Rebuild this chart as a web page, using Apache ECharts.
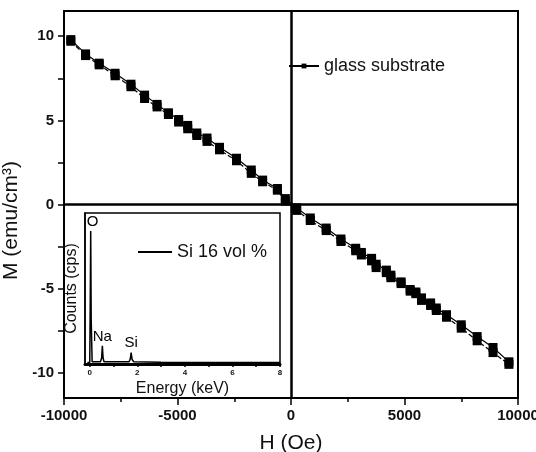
<!DOCTYPE html>
<html lang="en">
<head>
    <meta charset="UTF-8">
    <title>M-H glass substrate</title>
    <script src="https://cdn.jsdelivr.net/npm/echarts@6/dist/echarts.min.js"></script>
    <style type="text/css">
        html, body { margin: 0; padding: 0; background: #fff; }
        #chart { width: 536px; height: 452px; }
    </style>
</head>
<body>
<div id="chart"></div>
<script type="text/javascript">
    // M-H loop, two branches
    var hField = [-9700, -9050, -8450, -7750, -7050, -6450, -5900, -5400, -4950, -4550, -4150, -3700, -3150, -2400, -1750, -1250,
        -600, -250, 250, 850, 1550, 2200, 2850, 3100, 3550, 3750, 4200, 4400, 4850, 5250, 5500, 5750, 6150, 6400, 6850, 7500, 8200, 8900, 9600];
    var mUpper = [9.8, 8.95, 8.4, 7.8, 7.15, 6.5, 5.95, 5.45, 5.05, 4.7, 4.25, 3.95, 3.4, 2.75, 2.05, 1.45,
        0.95, 0.35, -0.2, -0.8, -1.4, -2.05, -2.6, -2.85, -3.2, -3.55, -3.9, -4.2, -4.6, -5.05, -5.2, -5.55, -5.85, -6.15, -6.55, -7.15, -7.85, -8.5, -9.35];
    var mLower = [9.7, 8.85, 8.3, 7.65, 7.0, 6.3, 5.8, 5.35, 4.9, 4.5, 4.1, 3.75, 3.25, 2.6, 1.85, 1.35,
        0.85, 0.2, -0.35, -0.95, -1.55, -2.2, -2.75, -3.0, -3.35, -3.75, -4.05, -4.35, -4.7, -5.15, -5.3, -5.7, -6.0, -6.3, -6.7, -7.35, -8.1, -8.8, -9.5];

    var yLabelValues = [-10, -5, 0, 5, 10];
    var yTickValues = [-10, -7.5, -5, -2.5, 0, 2.5, 5, 7.5, 10];

    // EDX inset spectrum
    var energyKeV = [-0.1, 0, 0.02, 0.04, 0.06, 0.1, 0.45, 0.5, 0.53, 0.56, 0.6, 1.0, 1.05, 1.1, 1.65, 1.7, 1.74, 1.78, 1.85, 3, 5, 7, 8];
    var counts    = [1, 1, 40, 88, 30, 1.5, 1.5, 4, 12, 4, 1.5, 1.5, 2.5, 1.5, 1.5, 3, 7.5, 3, 1.5, 1.2, 1, 1, 1];
    var peakNames = ['O', 'Na', 'Si'];
    var peakEnergy = [0.12, 0.53, 1.74];
    var peakCounts = [88, 12, 7.5];
    var insetLabelValues = [0, 2, 4, 6, 8];
    var insetTickValues = [0, 1, 2, 3, 4, 5, 6, 7, 8];

    function pairs(xs, ys) {
        return xs.map(function (x, i) { return [x, ys[i]]; });
    }
    function plain(v) { return String(v); }

    var font = 'Liberation Sans, Arial, sans-serif';
    var chart = echarts.init(document.getElementById('chart'));

    var option = {
        backgroundColor: '#fff',
        animation: false,
        textStyle: { fontFamily: font, color: '#000' },
        legend: [{
            data: ['glass substrate'],
            left: 288, top: 57, padding: 0,
            itemWidth: 30, itemHeight: 6,
            textStyle: { fontSize: 18, color: '#111', fontFamily: font }
        }, {
            data: [{ name: 'Si 16 vol %', icon: 'rect', itemStyle: { color: '#000' } }],
            left: 138, top: 243, padding: 0,
            itemWidth: 34, itemHeight: 2,
            textStyle: { fontSize: 18, color: '#111', fontFamily: font }
        }],
        grid: [{
            left: 64, right: 18, top: 11, bottom: 54,
            outerBoundsMode: 'none',
            show: true, borderColor: '#000', borderWidth: 2
        }, {
            left: 85, top: 213, width: 195, height: 151,
            outerBoundsMode: 'none',
            show: true, borderColor: '#000', borderWidth: 1.5, backgroundColor: '#fff'
        }],
        xAxis: [{
            gridIndex: 0, type: 'value',
            min: -10000, max: 10000, interval: 5000,
            name: 'H (Oe)', nameLocation: 'middle', nameGap: 35,
            nameTextStyle: { fontSize: 21, color: '#111' },
            axisLine: { onZero: false, lineStyle: { color: '#000', width: 2 } },
            axisTick: { inside: false, length: 7, lineStyle: { color: '#000', width: 1.5 } },
            minorTick: { show: true, splitNumber: 2, length: 4, lineStyle: { color: '#000', width: 1.5 } },
            axisLabel: { margin: 10, fontSize: 15, fontWeight: 'bold', color: '#111', formatter: plain },
            splitLine: { show: false }
        }, {
            gridIndex: 1, type: 'value',
            min: -0.2, max: 8,
            name: 'Energy (keV)', nameLocation: 'middle', nameGap: 17,
            nameTextStyle: { fontSize: 16, color: '#111' },
            axisLine: { onZero: false, lineStyle: { color: '#000', width: 3 } },
            axisTick: { length: 3, customValues: insetTickValues, lineStyle: { color: '#000', width: 1.5 } },
            axisLabel: { margin: 5, fontSize: 8, fontWeight: 'bold', color: '#111', customValues: insetLabelValues, formatter: plain },
            splitLine: { show: false }
        }],
        yAxis: [{
            gridIndex: 0, type: 'value',
            min: -11.5, max: 11.5,
            name: 'M (emu/cm\u00b3)', nameLocation: 'middle', nameGap: 32,
            nameTextStyle: { fontSize: 21, color: '#111', padding: [0, 32, 0, 0] },
            axisLine: { onZero: false, lineStyle: { color: '#000', width: 2 } },
            axisTick: { length: 6, customValues: yTickValues, lineStyle: { color: '#000', width: 1.5 } },
            axisLabel: { margin: 10, fontSize: 15, fontWeight: 'bold', color: '#111', customValues: yLabelValues, formatter: plain },
            splitLine: { show: false }
        }, {
            gridIndex: 1, type: 'value',
            min: 0, max: 100,
            name: 'Counts (cps)', nameLocation: 'middle', nameGap: 5,
            nameTextStyle: { fontSize: 16, color: '#111' },
            axisLine: { onZero: false, lineStyle: { color: '#000', width: 1.5 } },
            axisTick: { show: false },
            axisLabel: { show: false },
            splitLine: { show: false }
        }],
        series: [{
            name: 'glass substrate', type: 'line',
            xAxisIndex: 0, yAxisIndex: 0,
            data: pairs(hField, mUpper),
            symbol: 'rect', symbolSize: 9,
            itemStyle: { color: '#000' },
            lineStyle: { color: '#000', width: 1.2 },
            markLine: {
                silent: true, symbol: 'none',
                label: { show: false },
                lineStyle: { color: '#000', width: 2.5, type: 'solid' },
                data: [{ xAxis: 0 }, { yAxis: 0 }]
            },
            z: 3
        }, {
            name: 'glass substrate', type: 'line',
            xAxisIndex: 0, yAxisIndex: 0,
            data: pairs(hField, mLower),
            symbol: 'rect', symbolSize: 9,
            itemStyle: { color: '#000' },
            lineStyle: { color: '#000', width: 1.2, type: 'dashed' },
            z: 3
        }, {
            name: 'Si 16 vol %', type: 'line',
            xAxisIndex: 1, yAxisIndex: 1,
            data: pairs(energyKeV, counts),
            symbol: 'none',
            itemStyle: { color: '#000' },
            lineStyle: { color: '#000', width: 1.5 },
            z: 4
        }, {
            name: 'peaks', type: 'scatter',
            xAxisIndex: 1, yAxisIndex: 1,
            data: peakNames.map(function (n, i) { return [peakEnergy[i], peakCounts[i], n]; }),
            symbolSize: 0,
            itemStyle: { color: '#000' },
            label: {
                show: true, position: 'top', distance: 2,
                fontSize: 15, color: '#000', textBorderWidth: 0, opacity: 1,
                formatter: function (p) { return p.data[2]; }
            },
            emphasis: { disabled: true },
            z: 5
        }]
    };
    chart.setOption(option);
</script>
</body>
</html>
